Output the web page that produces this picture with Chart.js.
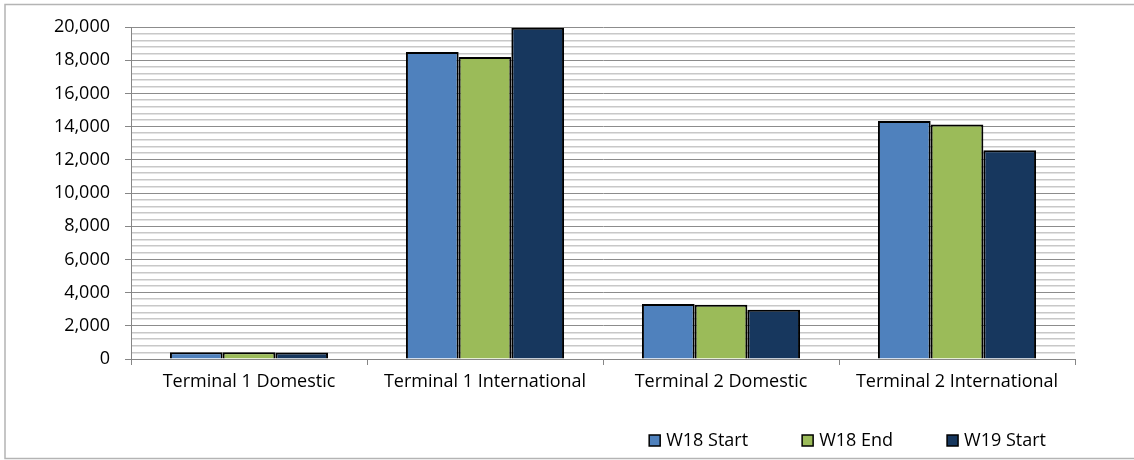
<!DOCTYPE html>
<html>
<head>
<meta charset="utf-8">
<script src="https://cdn.jsdelivr.net/npm/chart.js@4.4.1/dist/chart.umd.min.js"></script>
<style>
  html, body { margin: 0; padding: 0; background: #fff; }
  #wrap { width: 1134px; height: 460px; position: relative; }
</style>
</head>
<body>
<div id="wrap"><canvas id="myChart" width="1134" height="460"></canvas></div>
<script>
// data
var categories = ["Terminal 1 Domestic", "Terminal 1 International", "Terminal 2 Domestic", "Terminal 2 International"];
var seriesNames = ["W18 Start", "W18 End", "W19 Start"];
var w18Start = [400, 18490, 3310, 14340];
var w18End = [400, 18190, 3270, 14130];
var w19Start = [395, 19960, 2970, 12570];
var yMax = 20000;
var majorStep = 2000;
var minorStep = 400;

var FONT = '"Open Sans", sans-serif';

// outer frame of the chart object
var frame = {
    id: 'frame',
    beforeDraw: function(chart) {
        var ctx = chart.ctx;
        ctx.save();
        ctx.strokeStyle = '#b4b4b4';
        ctx.lineWidth = 1.5;
        ctx.strokeRect(5, 4.5, 1140, 454);
        ctx.restore();
    }
};

// legend sits bottom right with wide gaps, drawn from the datasets
var boxLegend = {
    id: 'boxLegend',
    afterDraw: function(chart) {
        var ctx = chart.ctx;
        var sets = chart.data.datasets;
        var gap = 54, box = 11, textGap = 6, y = 440.5, rightEnd = 1046;
        ctx.save();
        ctx.font = '18px ' + FONT;
        ctx.textBaseline = 'middle';
        var widths = sets.map(function(d) { return box + textGap + ctx.measureText(d.label).width; });
        var total = widths.reduce(function(a, b) { return a + b; }, 0) + gap * (sets.length - 1);
        var x = rightEnd - total;
        sets.forEach(function(d, i) {
            ctx.fillStyle = d.backgroundColor;
            ctx.fillRect(x, y - box / 2, box, box);
            ctx.strokeStyle = '#000';
            ctx.lineWidth = 1.5;
            ctx.strokeRect(x, y - box / 2, box, box);
            ctx.fillStyle = '#000';
            ctx.fillText(d.label, x + box + textGap, y);
            x += widths[i] + gap;
        });
        ctx.restore();
    }
};

var ctx = document.getElementById('myChart').getContext('2d');
var myBarChart = new Chart(ctx, {
    type: 'bar',
    data: {
        labels: categories,
        datasets: [{
            label: seriesNames[0],
            backgroundColor: '#4f81bd',
            borderColor: '#000',
            borderWidth: 2,
            data: w18Start
        }, {
            label: seriesNames[1],
            backgroundColor: '#9bbb59',
            borderColor: '#000',
            borderWidth: 2,
            data: w18End
        }, {
            label: seriesNames[2],
            backgroundColor: '#17375e',
            borderColor: '#000',
            borderWidth: 2,
            data: w19Start
        }]
    },
    options: {
        responsive: false,
        animation: false,
        layout: { padding: { left: 0, right: 59, top: 27, bottom: 61 } },
        datasets: { bar: { categoryPercentage: 0.67, barPercentage: 1.0 } },
        plugins: {
            legend: { display: false },
            tooltip: { enabled: false }
        },
        scales: {
            x: {
                grid: { display: true, drawOnChartArea: false, drawTicks: true, tickLength: 6, color: '#868686', offset: true },
                border: { display: true, color: '#868686', width: 1 },
                ticks: { color: '#000', font: { family: FONT, size: 18 }, padding: 6, maxRotation: 0 },
                afterFit: function(scale) { scale.height = 40; }
            },
            y: {
                min: 0,
                max: yMax,
                grid: {
                    color: function(c) { return c.tick && c.tick.value % majorStep === 0 ? '#8c8c8c' : '#c8c8c8'; },
                    tickColor: function(c) { return c.tick && c.tick.value % majorStep === 0 ? '#868686' : 'rgba(0,0,0,0)'; },
                    tickLength: 6,
                    lineWidth: function(c) { return c.tick && c.tick.value % majorStep === 0 ? 1 : 1.5; }
                },
                border: { display: true, color: '#868686', width: 1 },
                ticks: {
                    stepSize: minorStep,
                    maxTicksLimit: 100,
                    autoSkip: false,
                    color: '#000',
                    padding: 15,
                    font: { family: FONT, size: 18 },
                    // empty string keeps the minor grid line, only majors get a label
                    callback: function(v) { return v % majorStep === 0 ? v.toLocaleString('en-US') : ''; }
                },
                afterFit: function(scale) { scale.width = 131; }
            }
        }
    },
    plugins: [frame, boxLegend]
});
</script>
</body>
</html>
